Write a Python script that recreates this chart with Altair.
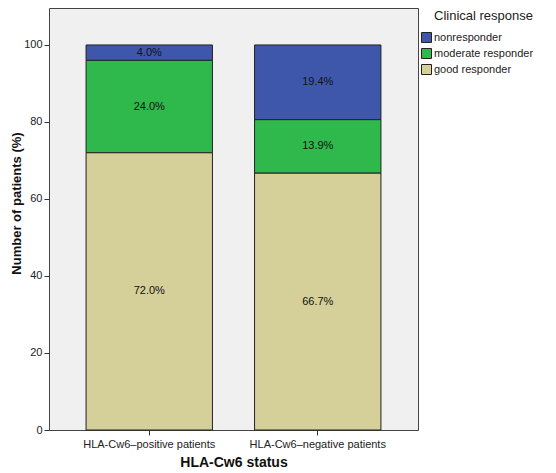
import altair as alt
import pandas as pd

groups = ["HLA-Cw6\u2013positive patients", "HLA-Cw6\u2013negative patients"]
responses = ["nonresponder", "moderate responder", "good responder"]
pos_vals = [4.0, 24.0, 72.0]
neg_vals = [19.4, 13.9, 66.7]
colors = ["#3F57AB", "#2FB84B", "#D5D09A"]
stack_order = [3, 2, 1]

rows = []
for g, vals in zip(groups, [pos_vals, neg_vals]):
    for r, v, o in zip(responses, vals, stack_order):
        rows.append({"group": g, "response": r, "value": v, "order": o,
                     "label": f"{v:.1f}%"})
df = pd.DataFrame(rows)

font = "Liberation Sans"

x = alt.X("group:N", sort=groups, title="HLA-Cw6 status",
          scale=alt.Scale(paddingInner=0.25, paddingOuter=0.22),
          axis=alt.Axis(labelAngle=0, labelFontSize=11, labelFont=font, labelColor="#222",
                        titleFontSize=14, titleFont=font, titleFontWeight="bold",
                        titleColor="#111", tickSize=5, tickColor="#333",
                        domain=False, titlePadding=6, labelPadding=3))
y = alt.Y("value:Q", stack="zero", title="Number of patients (%)",
          scale=alt.Scale(domain=[0, 109.6], nice=False),
          axis=alt.Axis(values=[0, 20, 40, 60, 80, 100], grid=False,
                        labelFontSize=11, labelFont=font, labelColor="#222",
                        titleFontSize=13, titleFont=font, titleFontWeight="bold",
                        titleColor="#111", tickSize=5, tickColor="#333",
                        titleX=-33, titleY=195, titleBaseline="middle",
                        domain=False, labelPadding=2))

bars = alt.Chart(df).mark_bar(stroke="#222", strokeWidth=1).encode(
    x=x, y=y,
    color=alt.Color("response:N", sort=responses,
                    scale=alt.Scale(domain=responses, range=colors),
                    legend=alt.Legend(title="Clinical response", titleFont=font,
                                      titleFontSize=13, titleFontWeight="normal",
                                      titleColor="#222", labelFont=font,
                                      labelFontSize=11, labelColor="#222",
                                      symbolType="square", symbolSize=100,
                                      symbolStrokeColor="#222", symbolStrokeWidth=1,
                                      rowPadding=1, labelOffset=2, titlePadding=9,
                                      titleAnchor="end",
                                      orient="none", legendX=372, legendY=2)),
    order=alt.Order("order:Q"),
)

texts = alt.Chart(df).mark_text(font=font, fontSize=11, color="#111").encode(
    x=alt.X("group:N", sort=groups),
    y=alt.Y("mid:Q"),
    text="label:N",
).transform_stack(
    stack="value", groupby=["group"], as_=["v0", "v1"],
    sort=[alt.SortField("order", order="ascending")]
).transform_calculate(mid="(datum.v0 + datum.v1) / 2")

chart = alt.layer(bars, texts).properties(
    width=369, height=422,
    autosize=alt.AutoSizeParams(type="none"),
    padding={"left": 41, "top": 0, "right": 130, "bottom": 43},
    background="white",
).configure_view(fill="#F0F0F0", stroke="#444", strokeWidth=1)

chart.save("out.html", embed_options={"renderer": "svg", "actions": False})
